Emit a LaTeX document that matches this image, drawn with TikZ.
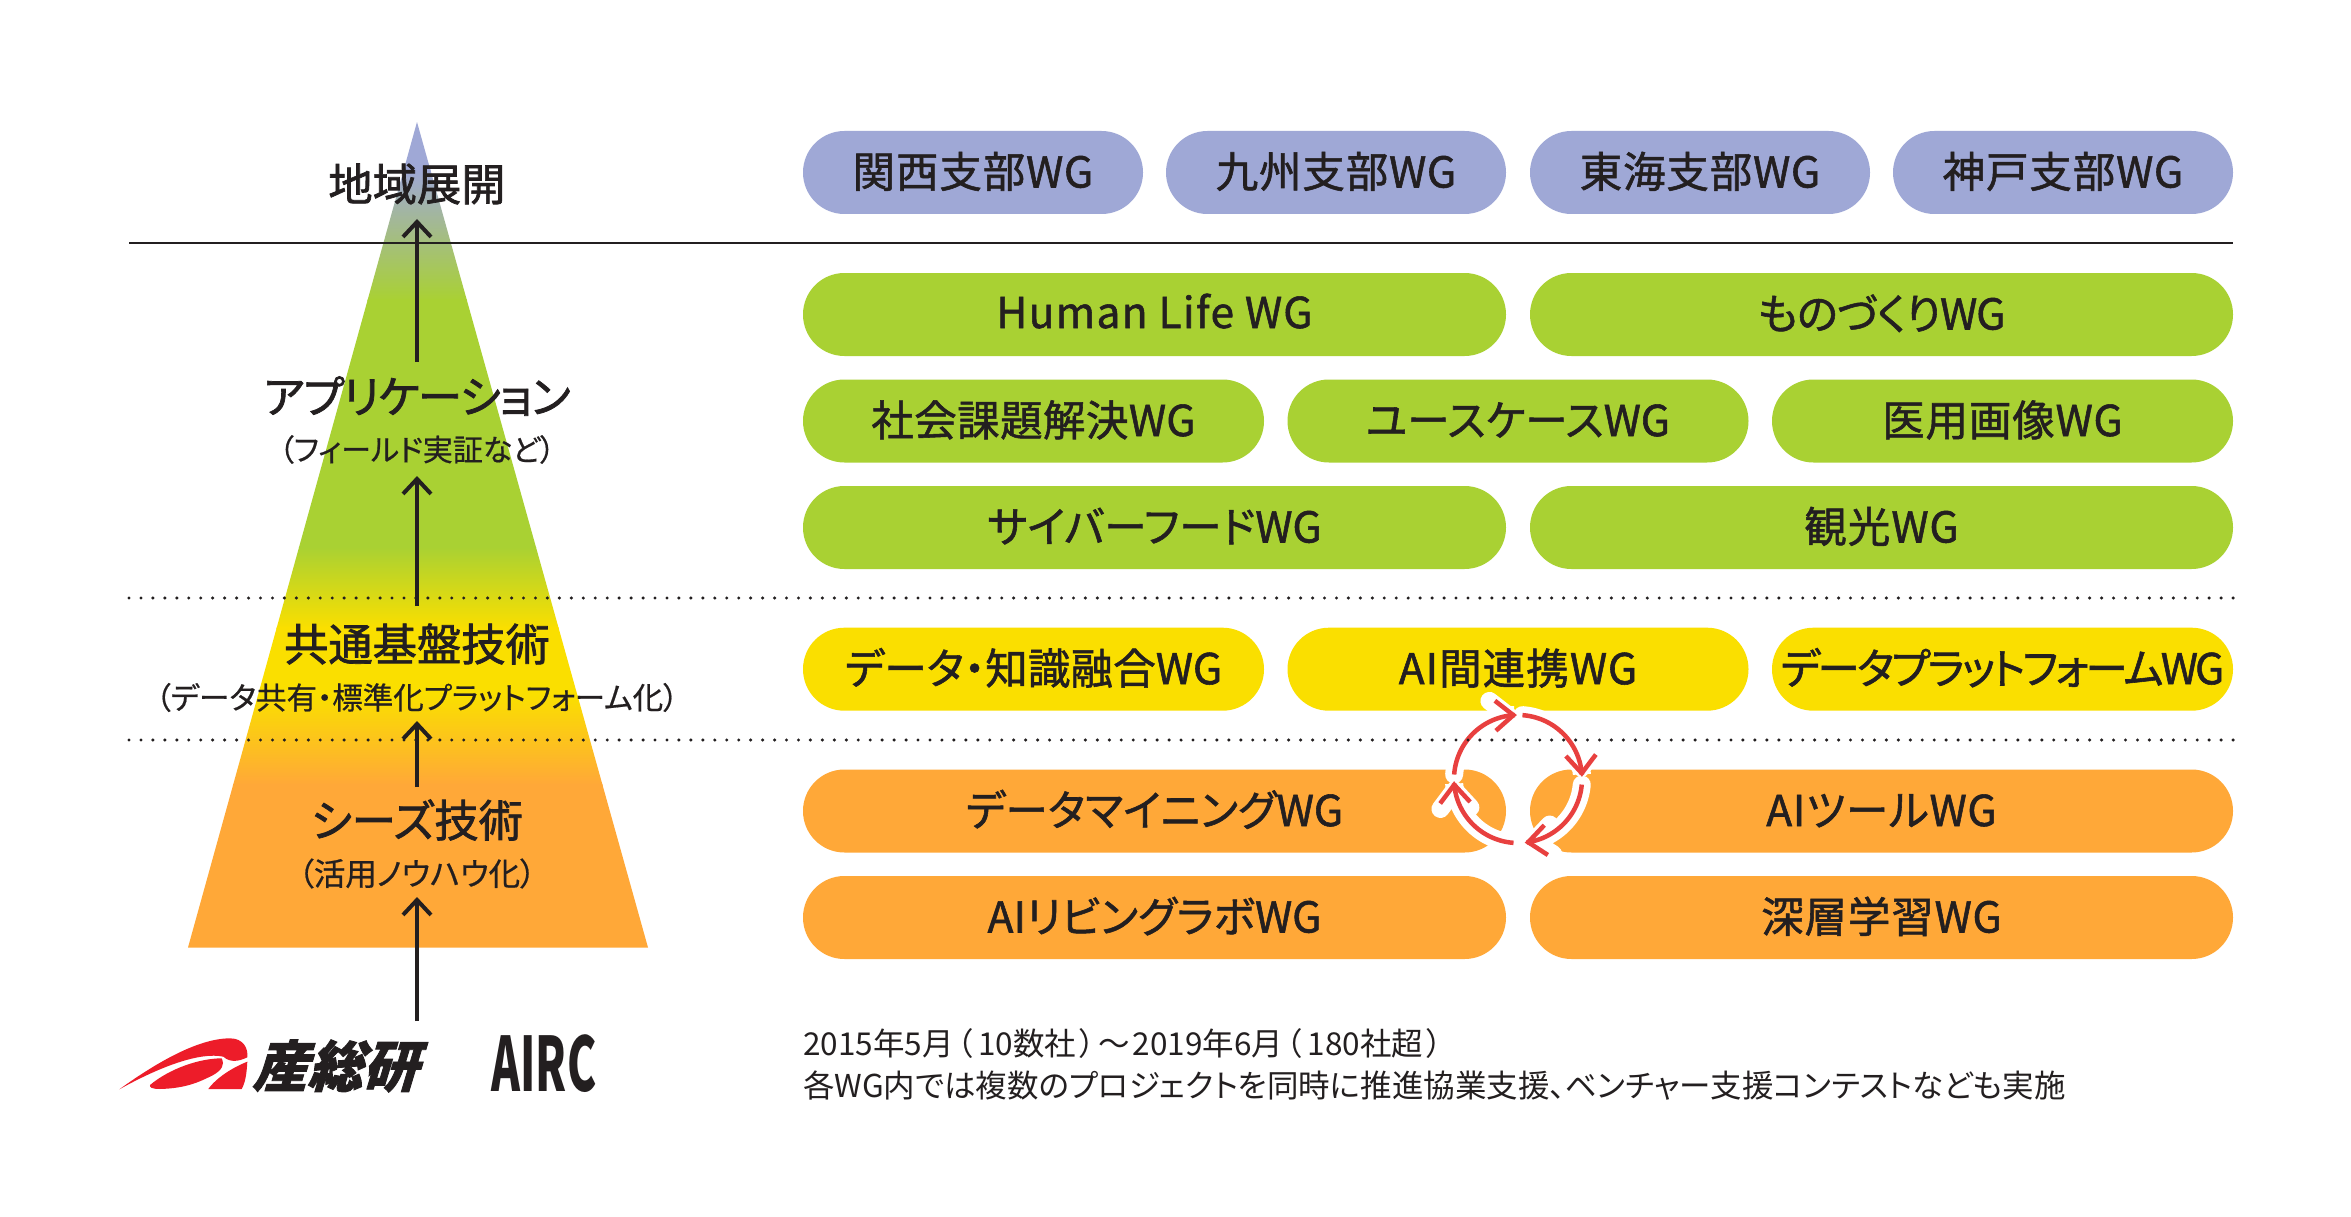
\documentclass[tikz,border=0pt]{standalone}
\usepackage{fontspec}
\usetikzlibrary{arrows.meta}
\setmainfont{Noto Sans CJK JP}[RawFeature=+palt]
\definecolor{cblue}{HTML}{9FA8D6}
\definecolor{cgreen}{HTML}{A9D133}
\definecolor{cyellow}{HTML}{FADF00}
\definecolor{corange}{HTML}{FFA838}
\definecolor{ink}{HTML}{231F20}
\definecolor{cred}{HTML}{E8403F}
\definecolor{logored}{HTML}{ED1C29}
\newcommand{\pfont}{\fontsize{42.5}{42.5}\selectfont\addfontfeature{FakeBold=1.3}}
\newcommand{\hfont}{\fontsize{44.3}{44.3}\selectfont\addfontfeature{FakeBold=1.6}}
\newcommand{\ls}[1]{\addfontfeature{LetterSpace=#1}}
\tikzset{x=1pt,y=-1pt,
 pill/.style={rounded corners=41.4pt,minimum height=83pt,inner sep=0pt,text=ink,font=\pfont,text height=36pt,text depth=6pt},
 pillb/.style={pill,fill=cblue},pillg/.style={pill,fill=cgreen},pilly/.style={pill,fill=cyellow},pillo/.style={pill,fill=corange},
 head/.style={text=ink,font=\hfont,inner sep=0pt},
 subh/.style={text=ink,inner sep=0pt},
 up/.style={draw=ink,line width=4pt,-{Straight Barb[length=15pt,width=28pt,line width=4pt]}},
 cyc/.style={draw=cred,line width=4.5pt,-{Straight Barb[length=18pt,width=30pt,line width=4.5pt]}},
 halo/.style={draw=white,line width=18pt,line cap=round,-{Straight Barb[round,length=18pt,width=30pt,line width=18pt]}},
 dotline/.style={draw=ink,line width=3.4pt,dash pattern=on 0pt off 11.955pt,line cap=round},
 note/.style={anchor=west,inner sep=0pt,text=ink,font=\fontsize{31.5}{31.5}\selectfont},
}
\begin{document}
\begin{tikzpicture}
\useasboundingbox (0,0) rectangle (2351,1217);
\fill[white] (0,0) rectangle (2351,1217);
% pyramid
\begin{scope}
\clip (417,122) -- (648,947.5) -- (188,947.5) -- cycle;
\fill[cblue] (100,122) rectangle (700,171);
\shade[top color=cblue,bottom color=cgreen] (100,170) rectangle (700,300);
\fill[cgreen] (100,299) rectangle (700,548);
\shade[top color=cgreen,bottom color=cyellow] (100,547) rectangle (700,628);
\fill[cyellow] (100,627) rectangle (700,696);
\shade[top color=cyellow,bottom color=corange] (100,695) rectangle (700,785);
\fill[corange] (100,784) rectangle (700,948);
\end{scope}
\draw[ink,line width=2pt] (129,243.5) -- (2233,243.5);
% labels
\node[head] (h1) at (417,184) {地域展開};
\node[head] (h2) at (417,396) {\ls{-2.8}アプリケーション};
\node[subh] (s2) at (417,449.5) {\fontsize{30}{30}\selectfont\addfontfeature{FakeBold=0.6}（フィールド実証など）};
\node[head] (h3) at (417,644) {共通基盤技術};
\node[subh] (s3) at (417,697.5) {\fontsize{30.5}{30.5}\selectfont\addfontfeature{FakeBold=0.6}（データ共有・標準化プラットフォーム化）};
\node[head] (h4) at (417,820) {シーズ技術};
\node[subh] (s4) at (417,873.5) {\fontsize{31.5}{31.5}\selectfont\addfontfeature{FakeBold=0.6}（活用ノウハウ化）};
\coordinate (a1s) at (417,362); \coordinate (a1e) at (417,219);
\coordinate (a2s) at (417,606); \coordinate (a2e) at (417,476);
\coordinate (a3s) at (417,787); \coordinate (a3e) at (417,721);
\coordinate (a4s) at (417,1021); \coordinate (a4e) at (417,897);
\draw[up] (a1s) -- (a1e);
\draw[up] (a2s) -- (a2e);
\draw[up] (a3s) -- (a3e);
\draw[up] (a4s) -- (a4e);
% pills
\node[pillb,minimum width=340pt] (p1) at (973,172.5) {\ls{2}関西支部WG};
\node[pillb,minimum width=340pt] (p2) at (1336,172.5) {\ls{2}九州支部WG};
\node[pillb,minimum width=340pt] (p3) at (1700,172.5) {\ls{2}東海支部WG};
\node[pillb,minimum width=340pt] (p4) at (2063,172.5) {\ls{2}神戸支部WG};
\node[pillg,minimum width=703pt,text height=33pt] (g1) at (1154.5,314.5) {\ls{3.1}Human Life WG};
\node[pillg,minimum width=703pt] (g2) at (1881.5,314.5) {\ls{-2}ものづくりWG};
\node[pillg,minimum width=461pt] (g3) at (1033.5,421) {\ls{1}社会課題解決WG};
\node[pillg,minimum width=461pt] (g4) at (1518,421) {\ls{0.2}ユースケースWG};
\node[pillg,minimum width=461pt] (g5) at (2002.5,421) {\ls{2}医用画像WG};
\node[pillg,minimum width=703pt] (g6) at (1154.5,527.5) {\ls{0.3}サイバーフードWG};
\node[pillg,minimum width=703pt] (g7) at (1881.5,527.5) {\ls{2.5}観光WG};
\node[pilly,minimum width=461pt] (y1) at (1033.5,669.2) {\ls{0.3}データ・知識融合WG};
\node[pilly,minimum width=461pt] (y2) at (1518,669.2) {\ls{2.5}AI間連携WG};
\node[pilly,minimum width=461pt] (y3) at (2002.5,669.2) {\ls{-6.4}データプラットフォームWG};
\node[pillo,minimum width=703pt] (o1) at (1154.5,811) {\ls{0.3}データマイニングWG};
\node[pillo,minimum width=703pt] (o2) at (1881.5,811) {\ls{2}AIツールWG};
\node[pillo,minimum width=703pt] (o3) at (1154.5,917.5) {\ls{0.4}AIリビングラボWG};
\node[pillo,minimum width=703pt] (o4) at (1881.5,917.5) {\ls{2}深層学習WG};
% cycle
\foreach \a/\b in {176/91,86/2,-5/-84,-94/-178}{
  \draw[halo] plot[domain=\a:\b,samples=30,smooth] ({1518+64*cos(\x)},{779-64*sin(\x)});
}
\foreach \a/\b in {176/91,86/2,-5/-84,-94/-178}{
  \draw[cyc] plot[domain=\a:\b,samples=30,smooth] ({1518+64*cos(\x)},{779-64*sin(\x)});
}
\draw[dotline] (129,598) -- (2234,598);
\draw[dotline] (129,740) -- (2234,740);
% note
\node[note] (n1) at (803,1044) {2015年5月\kern3pt（\kern6pt 10数社\kern3pt）\kern3pt〜\kern3pt 2019年6月\kern3pt（\kern6pt 180社超\kern3pt）};
\node[note] (n2) at (803,1086) {各WG内では複数のプロジェクトを同時に推進協業支援、ベンチャー支援コンテストなども実施};
% logos
\begin{scope}[shift={(110,1020)},x=0.3333pt,y=-0.3333pt]
\fill[logored] (28,208) .. controls (150,120) and (270,55) .. (360,55) .. controls (400,55) and (415,85) .. (412,112) .. controls (385,125) and (360,128) .. (340,110) .. controls (270,95) and (150,140) .. cycle;
\fill[logored] (120,195) .. controls (180,145) and (270,115) .. (335,115) .. controls (345,135) and (335,150) .. (310,165) .. controls (270,185) and (230,205) .. (150,207) .. controls (125,207) and (118,202) .. cycle;
\fill[logored] (412,125) .. controls (410,165) and (405,190) .. (395,207) -- (295,207) .. controls (310,185) and (350,150) .. cycle;
\end{scope}
\node[inner sep=0pt,text=ink,xslant=0.3,transform shape] (aist) at (341,1066) {\fontsize{55}{55}\selectfont\bfseries\addfontfeature{FakeBold=1.5}産総研};
\node[inner sep=0pt,text=ink,xscale=0.585,transform shape] (airc) at (544,1064) {\fontsize{75}{75}\selectfont\bfseries AIRC};
\end{tikzpicture}
\end{document}
